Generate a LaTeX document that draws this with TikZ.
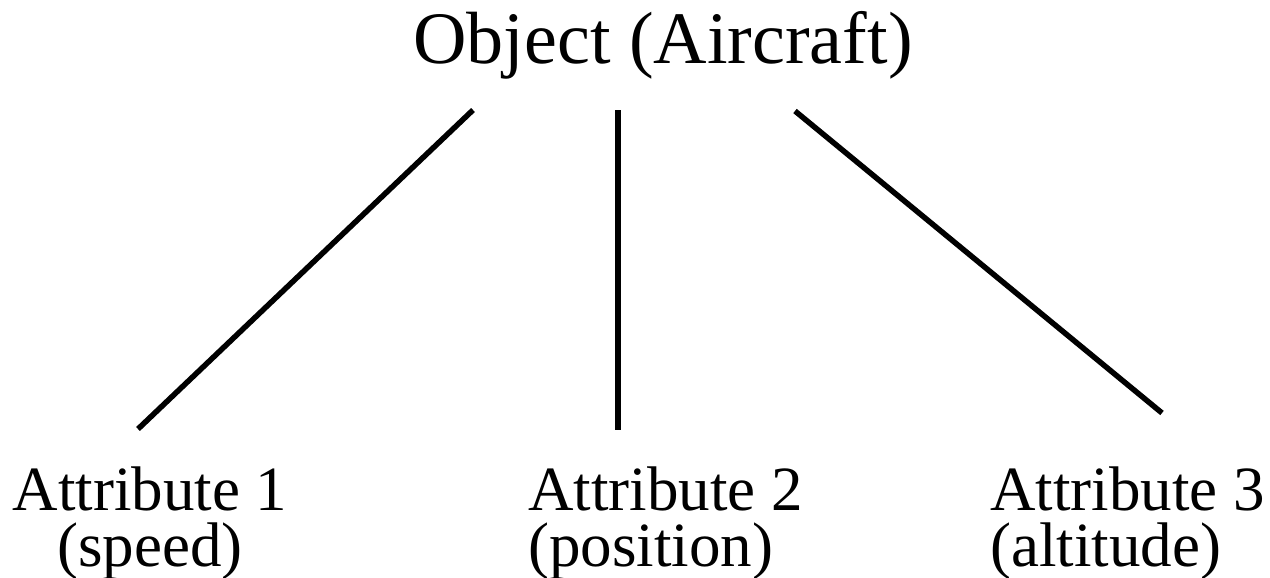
\documentclass[tikz,border=0pt]{standalone}
\usepackage{fontspec}
\setmainfont{Liberation Serif}
\usetikzlibrary{positioning}

\begin{document}
\begin{tikzpicture}[x=1pt, y=-1pt,
  obj/.style={inner sep=0pt, font=\fontsize{74}{80}\selectfont},
  attr/.style={inner sep=0pt, font=\fontsize{63}{56}\selectfont},
  link/.style={line width=5.5pt, black},
]
  \useasboundingbox (0,0) rectangle (1270,578);
  \node[obj, anchor=base] (obj) at (663,64) {Object (Aircraft)};
  \node[attr, align=center, anchor=base] (att1) at (150,566) {Attribute 1\\(speed)};
  \node[attr, align=left, anchor=base west] (att2) at (528,566) {Attribute 2\\(position)};
  \node[attr, align=left, anchor=base west] (att3) at (990,566) {Attribute 3\\(altitude)};
  % ends of the links
  \coordinate (obj-l) at (473,110);
  \coordinate (obj-m) at (618,110);
  \coordinate (obj-r) at (795,111);
  \coordinate (att1-t) at (138,429);
  \coordinate (att2-t) at (618,430);
  \coordinate (att3-t) at (1162,413);
  \draw[link] (obj-l) -- (att1-t);
  \draw[link] (obj-m) -- (att2-t);
  \draw[link] (obj-r) -- (att3-t);
\end{tikzpicture}
\end{document}
